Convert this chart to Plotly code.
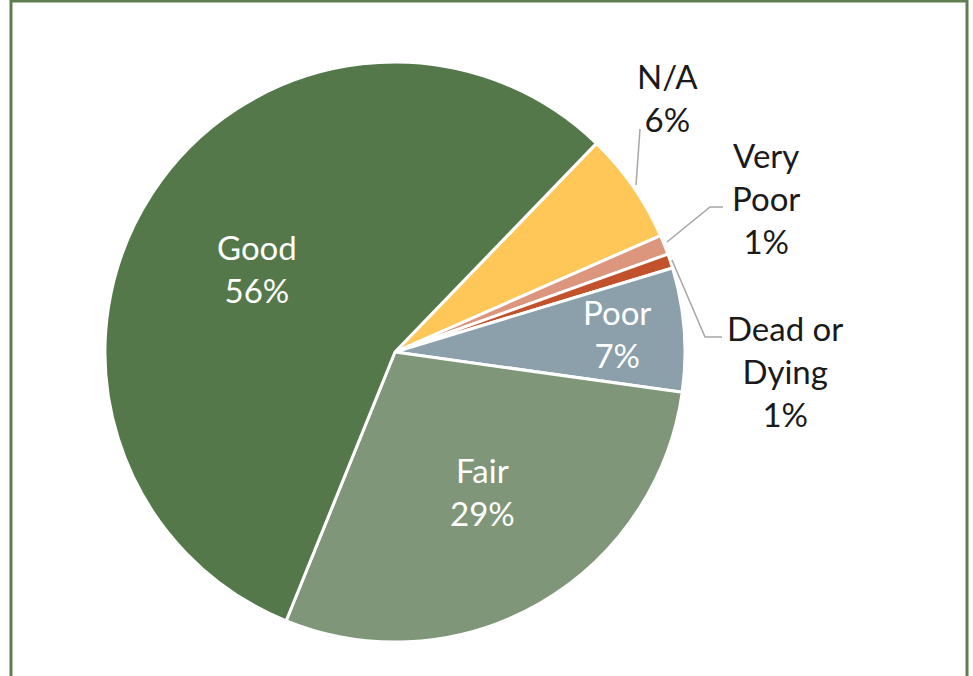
import plotly.graph_objects as go

# ---- data ----
labels = ["N/A", "Very Poor", "Dead or Dying", "Poor", "Fair", "Good"]
values = [6.2, 1.1, 0.8, 6.9, 28.9, 56.1]
colors = ["#ffc757", "#db967d", "#c1522b", "#8ba0aa", "#7f9679", "#54784a"]

W, H = 973, 676
total = sum(values)
pct = [round(v / total * 100) for v in values]


def px(x):
    return x / W


def py(y):
    return 1 - y / H


# pie geometry in pixels
cx, cy, r = 395, 352, 290

fig = go.Figure(
    go.Pie(
        labels=labels,
        values=values,
        sort=False,
        direction="clockwise",
        rotation=44,
        textinfo="none",
        marker=dict(colors=colors, line=dict(color="white", width=3)),
        domain=dict(x=[px(cx - r), px(cx + r)], y=[py(cy + r), py(cy - r)]),
        showlegend=False,
        hoverinfo="label+percent",
    )
)

# label placement (pixels) and leader lines
label_pos = {
    "Good": dict(x=257, y=268),
    "Fair": dict(x=482, y=491),
    "Poor": dict(x=617, y=333),
    "N/A": dict(x=667, y=98, line=[(636, 185), (640, 129)]),
    "Very Poor": dict(x=766, y=198, line=[(667, 242), (710, 207), (723, 207)]),
    "Dead or Dying": dict(x=785, y=371, line=[(672, 260), (705, 337), (722, 337)]),
}
display_names = {"Very Poor": "Very<br>Poor", "Dead or Dying": "Dead or<br>Dying"}
inside = {"Good", "Fair", "Poor"}

annotations = []
shapes = []
for l, p in zip(labels, pct):
    o = label_pos[l]
    annotations.append(
        dict(
            x=px(o["x"]), y=py(o["y"]), xref="paper", yref="paper",
            text=f"{display_names.get(l, l)}<br>{p}%", showarrow=False,
            font=dict(size=33, color="white" if l in inside else "#1a1a1a", family="Lato"),
            xanchor="center", yanchor="middle", align="center",
        )
    )
    if "line" in o:
        path = "M " + " L ".join(f"{px(x)},{py(y)}" for x, y in o["line"])
        shapes.append(dict(type="path", xref="paper", yref="paper", path=path,
                           line=dict(color="#a6a6a6", width=1.5)))

# chart frame
shapes.append(dict(type="rect", xref="paper", yref="paper",
                   x0=px(11), x1=px(967), y0=py(700), y1=py(1),
                   line=dict(color="#5e7e52", width=3), fillcolor="rgba(0,0,0,0)"))

fig.update_layout(
    width=W, height=H,
    margin=dict(l=0, r=0, t=0, b=0),
    paper_bgcolor="white",
    plot_bgcolor="white",
    annotations=annotations,
    shapes=shapes,
    font=dict(family="Lato"),
)

fig.write_html("out.html", config={"displayModeBar": False},
               post_script="document.body.style.margin='0';")
